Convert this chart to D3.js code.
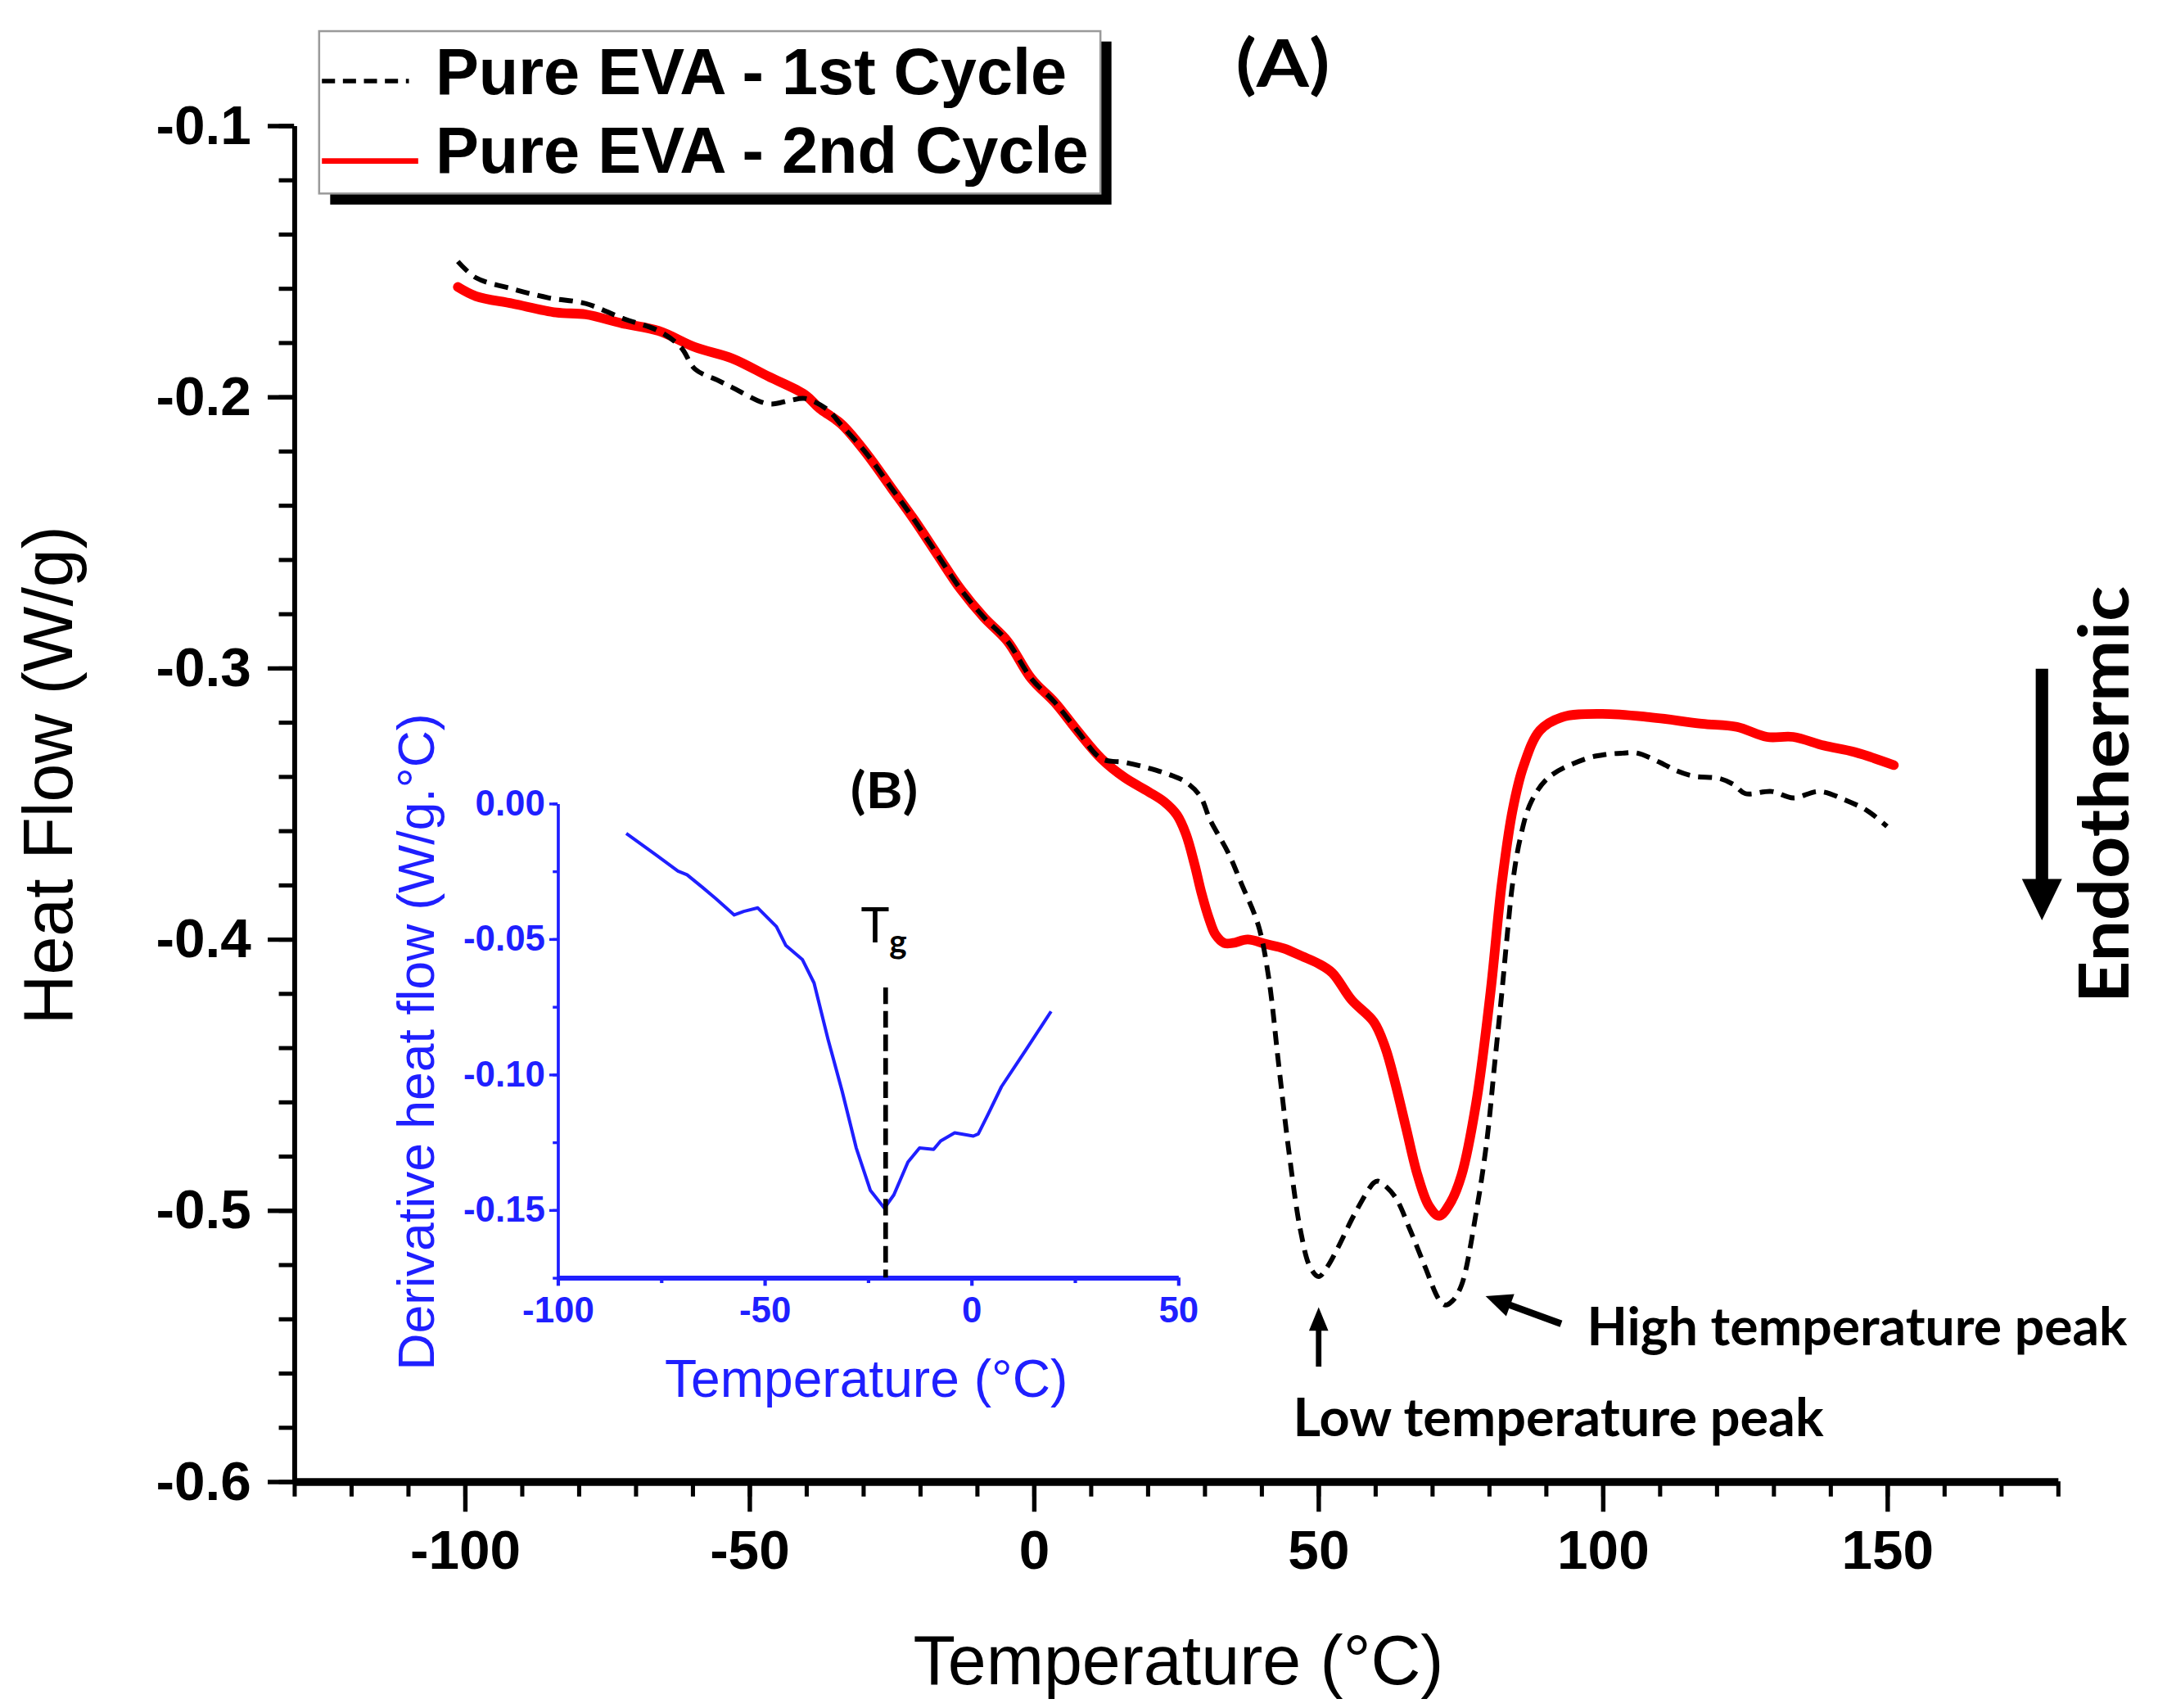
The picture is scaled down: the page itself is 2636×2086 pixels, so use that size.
<!DOCTYPE html>
<html><head><meta charset="utf-8">
<script src="https://cdn.jsdelivr.net/npm/d3@7"></script>
<style>html,body{margin:0;padding:0;background:#fff;} svg{display:block}</style>
</head><body>
<svg id="chart" width="2636" height="2086" viewBox="0 0 1562 1236"></svg>
<script>
// ---------- DATA ----------
const seriesNames = ["Pure EVA - 1st Cycle", "Pure EVA - 2nd Cycle"];
// [Temperature (°C), Heat Flow (W/g)]
const cycle1 = [
  [-101.2,-0.1502],[-98,-0.1562],[-91.6,-0.1603],[-85.2,-0.1636],[-78.7,-0.1657],[-72.3,-0.1711],
  [-65.9,-0.1758],[-62,-0.1818],[-59.5,-0.1899],[-55.6,-0.1939],[-53,-0.1966],[-46.6,-0.2027],
  [-42.8,-0.2014],[-40.2,-0.2007],[-36.3,-0.2047],[-33.8,-0.2105],[-29.4,-0.2209],[-25,-0.2337],
  [-21.1,-0.2451],[-17,-0.258],[-12.8,-0.2711],[-8.7,-0.2815],[-4.6,-0.2902],[-0.4,-0.304],
  [3.7,-0.3127],[7.8,-0.3235],[11.9,-0.3335],[16.1,-0.3349],[20.2,-0.337],[24,-0.3395],
  [26.8,-0.3422],[29.3,-0.3474],[31,-0.356],[34.2,-0.3682],[36.5,-0.3795],[39.5,-0.395],
  [41.3,-0.414],[43.1,-0.4468],[45,-0.4805],[46.9,-0.5074],[48.6,-0.521],[50.1,-0.5245],
  [51.6,-0.521],[53.4,-0.5142],[56.6,-0.5007],[59.8,-0.4899],[60.5,-0.4893],[61.5,-0.4905],
  [63.6,-0.4953],[66.2,-0.5074],[68.8,-0.5209],[71.3,-0.5331],[72.4,-0.535],[73.6,-0.5335],
  [75.2,-0.5277],[77.8,-0.5007],[79.7,-0.4738],[81,-0.4468],[82.3,-0.4198],[83.2,-0.3996],
  [84.2,-0.3794],[85.5,-0.3632],[87.4,-0.3497],[90.6,-0.3403],[97,-0.3336],[100.5,-0.332],
  [103.5,-0.3315],[106,-0.3314],[110.2,-0.335],[113,-0.338],[116.1,-0.34],[120.5,-0.3408],
  [123,-0.343],[125.1,-0.3464],[129.7,-0.3456],[133.5,-0.348],[138.1,-0.3456],[142.7,-0.3488],
  [146.6,-0.3528],[150,-0.3585]
];
const cycle2 = [
  [-101.2,-0.1596],[-98,-0.163],[-91.6,-0.1657],[-83.9,-0.169],[-78.7,-0.1697],[-72.3,-0.173],
  [-65.9,-0.1758],[-59.5,-0.1818],[-53,-0.1859],[-46.6,-0.1926],[-40.2,-0.1993],[-37.6,-0.2044],
  [-33.8,-0.2101],[-29.4,-0.2209],[-25,-0.2337],[-21.1,-0.2451],[-17,-0.258],[-12.8,-0.2711],
  [-8.7,-0.2815],[-4.6,-0.2902],[-0.4,-0.304],[3.7,-0.3127],[7.8,-0.3235],[11.9,-0.3335],
  [16,-0.3405],[20.2,-0.3457],[23,-0.3495],[25.2,-0.3543],[26.8,-0.3615],[28.3,-0.3726],
  [29.5,-0.383],[30.9,-0.3929],[32,-0.3985],[33.5,-0.4015],[35,-0.4015],[37.6,-0.4002],
  [40.9,-0.4019],[44,-0.4035],[47.2,-0.4064],[50,-0.409],[52.5,-0.4125],[55.9,-0.4225],
  [59.8,-0.4306],[61.8,-0.44],[63.6,-0.4535],[65.5,-0.47],[67.5,-0.4872],[69.5,-0.4985],
  [71.3,-0.5021],[73.2,-0.4975],[75.2,-0.4872],[77.8,-0.4603],[80.3,-0.4198],[82.3,-0.3794],
  [84.2,-0.3524],[86.1,-0.3363],[89,-0.3231],[92.9,-0.3182],[99.8,-0.317],[108.2,-0.3182],
  [117.4,-0.3206],[123.6,-0.3218],[128.9,-0.3255],[133.5,-0.3255],[138.9,-0.3287],
  [144.3,-0.3311],[151.2,-0.3359]
];
// Inset (B): [Temperature (°C), Derivative heat flow (W/g.°C)]
const derivative = [
  [-83.4,-0.0111],[-76,-0.0193],[-70.9,-0.025],[-68.7,-0.0264],[-65,-0.031],[-61.8,-0.0351],
  [-57.3,-0.0412],[-55,-0.0399],[-51.6,-0.0386],[-47.1,-0.0455],[-44.8,-0.0525],[-40.8,-0.0577],
  [-38,-0.0663],[-34.6,-0.0872],[-31.2,-0.1063],[-27.8,-0.1272],[-24.4,-0.1428],[-21,-0.1494],
  [-18.7,-0.1445],[-15.3,-0.1324],[-12.5,-0.1272],[-9.1,-0.1277],[-7.4,-0.1246],[-4,-0.1216],
  [0.5,-0.1228],[1.7,-0.122],[4,-0.115],[7.3,-0.1046],[13,-0.0915],[19.3,-0.0768]
];
const xTicks = [-100, -50, 0, 50, 100, 150];
const yTicks = [-0.1, -0.2, -0.3, -0.4, -0.5, -0.6];
const insetXTicks = [-100, -50, 0, 50];
const insetYTicks = [0, -0.05, -0.10, -0.15];
const tgTemp = -20.7;       // Tg marker position (°C)
const tgTop = -0.068;       // top of Tg marker (W/g.°C)
const lowPeakT = 50.1, highPeakT = 72.4;

// ---------- LAYOUT ----------
const svg = d3.select("#chart");
const x = d3.scaleLinear().domain([-130, 180]).range([212.8, 1489.4]);
const y = d3.scaleLinear().domain([-0.6, -0.1]).range([1072, 90.7]);
const xi = d3.scaleLinear().domain([-100, 50]).range([403.6, 852.7]);
const yi = d3.scaleLinear().domain([-0.175, 0]).range([924.5, 581.3]);
const AX = "'Liberation Sans', Arial, sans-serif";
const CAL = "Lato, 'Liberation Sans', sans-serif";
const BLUE = "#1f1fff";

function styleAxis(g, color, fs, bold) {
  g.selectAll("text").attr("fill", color).attr("font-family", AX)
   .attr("font-size", fs).attr("font-weight", bold ? "bold" : "normal");
  g.selectAll("line").attr("stroke", color);
  g.select(".domain").attr("stroke", color);
}

// ---- main axes ----
const yMinor = d3.range(-0.6, -0.0999, 0.02);
const xMinor = d3.range(-130, 180.1, 10);
svg.append("g").attr("transform", `translate(${x(-130)},0)`)
  .call(d3.axisLeft(y).tickValues(yMinor).tickSize(11).tickSizeOuter(0).tickFormat(""))
  .call(g => { g.select(".domain").remove(); g.selectAll("line").attr("stroke-width", 3); });
const gy = svg.append("g").attr("transform", `translate(${x(-130)},0)`)
  .call(d3.axisLeft(y).tickValues(yTicks).tickSize(19).tickSizeOuter(0).tickPadding(12)
        .tickFormat(d => d.toFixed(1)));
styleAxis(gy, "#000", 40, true);
gy.selectAll("line").attr("stroke-width", 3.2);
gy.select(".domain").attr("stroke-width", 3.5);

svg.append("g").attr("transform", `translate(0,${y(-0.6)})`)
  .call(d3.axisBottom(x).tickValues(xMinor).tickSize(11).tickSizeOuter(0).tickFormat(""))
  .call(g => { g.select(".domain").remove(); g.selectAll("line").attr("stroke-width", 3); });
const gx = svg.append("g").attr("transform", `translate(0,${y(-0.6)})`)
  .call(d3.axisBottom(x).tickValues(xTicks).tickSize(22).tickSizeOuter(0).tickPadding(13)
        .tickFormat(d => String(d)));
styleAxis(gx, "#000", 40, true);
gx.selectAll("line").attr("stroke-width", 3.2);
gx.select(".domain").attr("stroke-width", 5.5);

svg.append("text").attr("transform", "translate(52,561) rotate(-90)")
  .attr("text-anchor", "middle").attr("font-family", AX).attr("font-size", 50)
  .text("Heat Flow (W/g)");
svg.append("text").attr("x", 853).attr("y", 1219)
  .attr("text-anchor", "middle").attr("font-family", AX).attr("font-size", 50)
  .text("Temperature (°C)");

// ---- main curves ----
const line = d3.line().x(d => x(d[0])).y(d => y(d[1])).curve(d3.curveCatmullRom.alpha(0.5));
svg.append("path").datum(cycle2).attr("d", line).attr("fill", "none")
  .attr("stroke", "#ff0000").attr("stroke-width", 7).attr("stroke-linejoin", "round").attr("stroke-linecap", "round");
svg.append("path").datum(cycle1).attr("d", line).attr("fill", "none")
  .attr("stroke", "#000").attr("stroke-width", 3.5).attr("stroke-dasharray", "10,6");

// ---- inset axes ----
const iyMinor = d3.range(-0.175, 0.0001, 0.025);
const ixMinor = [-75, -25, 25];
svg.append("g").attr("transform", `translate(${xi(-100)},0)`)
  .call(d3.axisLeft(yi).tickValues(iyMinor).tickSize(3.5).tickSizeOuter(0).tickFormat(""))
  .call(g => { g.select(".domain").remove(); g.selectAll("line").attr("stroke", BLUE).attr("stroke-width", 2); });
const giy = svg.append("g").attr("transform", `translate(${xi(-100)},0)`)
  .call(d3.axisLeft(yi).tickValues(insetYTicks).tickSize(6).tickSizeOuter(0).tickPadding(3)
        .tickFormat(d => d.toFixed(2)));
styleAxis(giy, BLUE, 26, true);
giy.selectAll("line").attr("stroke-width", 2);
giy.select(".domain").attr("stroke-width", 2.2);

svg.append("g").attr("transform", `translate(0,${yi(-0.175)})`)
  .call(d3.axisBottom(xi).tickValues(ixMinor).tickSize(4).tickSizeOuter(0).tickFormat(""))
  .call(g => { g.select(".domain").remove(); g.selectAll("line").attr("stroke", BLUE).attr("stroke-width", 2.5); });
const gix = svg.append("g").attr("transform", `translate(0,${yi(-0.175)})`)
  .call(d3.axisBottom(xi).tickValues(insetXTicks).tickSize(6).tickSizeOuter(0).tickPadding(8)
        .tickFormat(d => String(d)));
styleAxis(gix, BLUE, 26, true);
gix.selectAll("line").attr("stroke-width", 2.5);
gix.select(".domain").attr("stroke-width", 3.6);

svg.append("text").attr("transform", "translate(314,754) rotate(-90)")
  .attr("text-anchor", "middle").attr("font-family", AX).attr("font-size", 37).attr("fill", BLUE)
  .text("Derivative heat flow (W/g.°C)");
svg.append("text").attr("x", 627).attr("y", 1011)
  .attr("text-anchor", "middle").attr("font-family", AX).attr("font-size", 38).attr("fill", BLUE)
  .text("Temperature (°C)");

const iline = d3.line().x(d => xi(d[0])).y(d => yi(d[1]));
svg.append("path").datum(derivative).attr("d", iline).attr("fill", "none")
  .attr("stroke", BLUE).attr("stroke-width", 2.4).attr("stroke-linejoin", "round");

// Tg marker
svg.append("line").attr("x1", xi(tgTemp)).attr("x2", xi(tgTemp))
  .attr("y1", yi(tgTop)).attr("y2", yi(-0.175))
  .attr("stroke", "#000").attr("stroke-width", 3.4).attr("stroke-dasharray", "12,5");
const tgText = svg.append("text").attr("x", xi(tgTemp) - 18).attr("y", 682)
  .attr("font-family", CAL).attr("font-size", 35).attr("fill", "#000");
tgText.append("tspan").text("T");
tgText.append("tspan").attr("font-size", 24).attr("dy", 8).attr("font-weight", "bold").text("g");

// ---- labels ----
svg.append("text").attr("x", 928.5).attr("y", 62.5).attr("text-anchor", "middle")
  .attr("font-family", CAL).attr("font-weight", "bold").attr("font-size", 48)
  .attr("textLength", 68).attr("lengthAdjust", "spacingAndGlyphs").text("(A)");
svg.append("text").attr("x", 640).attr("y", 585).attr("text-anchor", "middle")
  .attr("font-family", CAL).attr("font-weight", "bold").attr("font-size", 36)
  .attr("textLength", 49).attr("lengthAdjust", "spacingAndGlyphs").text("(B)");
svg.append("text").attr("x", 1148.7).attr("y", 973.5)
  .attr("font-family", CAL).attr("font-weight", "bold").attr("font-size", 38)
  .attr("textLength", 391).attr("lengthAdjust", "spacingAndGlyphs").text("High temperature peak");
svg.append("text").attr("x", 936).attr("y", 1039.5)
  .attr("font-family", CAL).attr("font-weight", "bold").attr("font-size", 38)
  .attr("textLength", 384).attr("lengthAdjust", "spacingAndGlyphs").text("Low temperature peak");
svg.append("text").attr("transform", "translate(1540.7,575) rotate(-90)").attr("text-anchor", "middle")
  .attr("font-family", CAL).attr("font-weight", "bold").attr("font-size", 50)
  .attr("textLength", 302).attr("lengthAdjust", "spacingAndGlyphs").text("Endothermic");

// arrows
function arrow(x1, y1, x2, y2, headLen, headW, shaftW) {
  const dx = x2 - x1, dy = y2 - y1, L = Math.hypot(dx, dy);
  const ux = dx / L, uy = dy / L, px = -uy, py = ux;
  const bx = x2 - ux * headLen, by = y2 - uy * headLen;
  svg.append("line").attr("x1", x1).attr("y1", y1).attr("x2", bx + ux * 2).attr("y2", by + uy * 2)
    .attr("stroke", "#000").attr("stroke-width", shaftW);
  svg.append("path").attr("d", `M${x2},${y2}L${bx + px * headW / 2},${by + py * headW / 2}L${bx - px * headW / 2},${by - py * headW / 2}Z`)
    .attr("fill", "#000");
}
arrow(x(lowPeakT), 989, x(lowPeakT), 946, 17, 14, 4);
arrow(1130, 958, x(highPeakT) + 29, 938, 19, 17, 5);
arrow(1478, 484, 1478, 666, 30, 29, 9);

// ---- legend ----
const lg = svg.append("g");
lg.append("rect").attr("x", 239).attr("y", 30).attr("width", 565.5).attr("height", 118).attr("fill", "#000");
lg.append("rect").attr("x", 231).attr("y", 22.5).attr("width", 565.5).attr("height", 117.5)
  .attr("fill", "#fff").attr("stroke", "#9a9a9a").attr("stroke-width", 1.5);
const legendStyles = [
  { stroke: "#000", width: 3.2, dash: "9.5,5.7", ly: 58.6, ty: 68, x2: 296 },
  { stroke: "#ff0000", width: 4, dash: null, ly: 116.4, ty: 124.7, x2: 302.7 }
];
seriesNames.forEach((name, i) => {
  const s = legendStyles[i];
  lg.append("line").attr("x1", 233).attr("x2", s.x2).attr("y1", s.ly).attr("y2", s.ly)
    .attr("stroke", s.stroke).attr("stroke-width", s.width).attr("stroke-dasharray", s.dash);
  lg.append("text").attr("x", 315.2).attr("y", s.ty).attr("font-family", AX).attr("font-weight", "bold")
    .attr("font-size", 47).text(name);
});
</script>
</body></html>
